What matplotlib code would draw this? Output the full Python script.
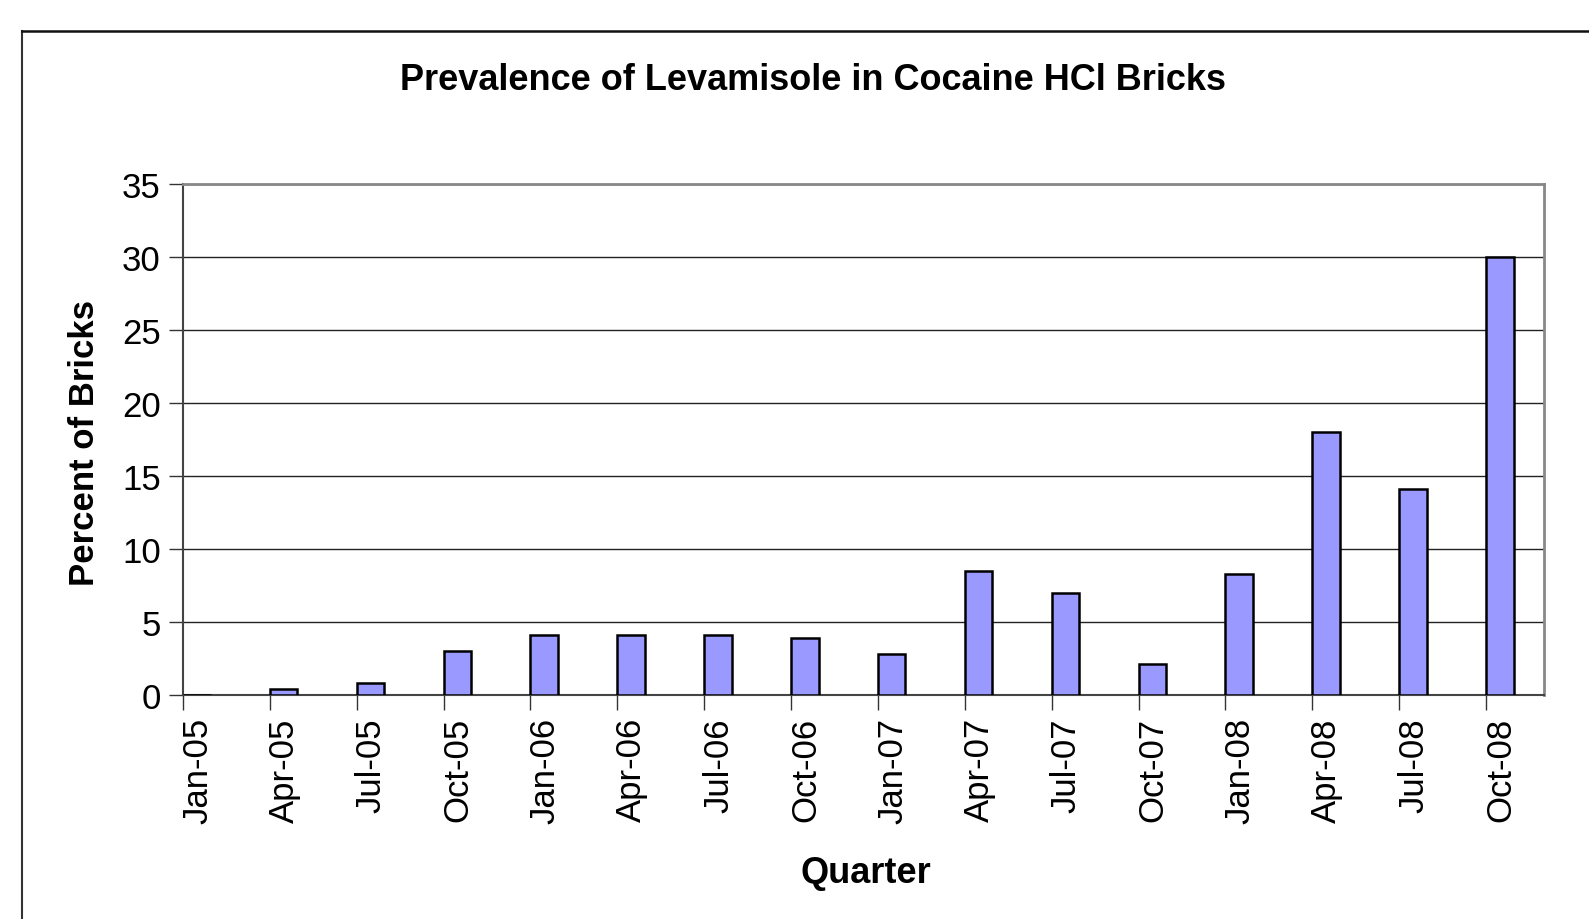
import matplotlib
matplotlib.use('Agg')
import matplotlib.pyplot as plt
from matplotlib.lines import Line2D

plt.rcParams['font.family'] = ['Liberation Sans', 'DejaVu Sans']

# quarters and the share of bricks with levamisole (%)
quarters = ['Jan-05', 'Apr-05', 'Jul-05', 'Oct-05', 'Jan-06', 'Apr-06', 'Jul-06', 'Oct-06',
            'Jan-07', 'Apr-07', 'Jul-07', 'Oct-07', 'Jan-08', 'Apr-08', 'Jul-08', 'Oct-08']
percent = [0, 0.4, 0.8, 3.0, 4.1, 4.1, 4.1, 3.9, 2.8, 8.5, 7.0, 2.1, 8.3, 18.0, 14.1, 30.0]
y_ticks = [0, 5, 10, 15, 20, 25, 30, 35]

# month offset of each quarter (date axis, one slot per month)
months = [3 * i for i in range(len(quarters))]

W, H = 1589, 920
fig = plt.figure(figsize=(W / 100, H / 100), dpi=100)

# outer chart frame (runs off the right and bottom edges)
fig.add_artist(Line2D([22 / W, 22 / W], [0, 1 - 32 / H], color='#333333', lw=1.5,
                      transform=fig.transFigure))
fig.add_artist(Line2D([22 / W, 1], [1 - 32 / H, 1 - 32 / H], color='#111111', lw=1.8,
                      transform=fig.transFigure))

ax = fig.add_axes([183 / W, 1 - 696 / H, (1544 - 183) / W, (696 - 185) / H])

ax.bar(months, percent, width=0.95, align='edge', color='#9999FF',
       edgecolor='black', linewidth=1.8, zorder=3)

ax.set_xlim(0, 47)
ax.set_ylim(0, 35)
ax.set_yticks(y_ticks)
ax.yaxis.grid(True, color='#222222', linewidth=1.0, zorder=0)

# ticks at quarter starts, labels centred in the month slot
ax.set_xticks(months)
ax.set_xticklabels([])
ax.set_xticks([m + 0.5 for m in months], minor=True)
ax.set_xticklabels(quarters, minor=True, rotation=90, fontsize=25)
ax.tick_params(axis='x', which='minor', length=0, pad=16)
ax.tick_params(axis='x', which='major', length=11, width=1, color='#333333')
ax.tick_params(axis='y', length=10, width=1, color='#333333', labelsize=25, pad=6)

for side in ['top', 'right']:
    ax.spines[side].set_color('#888888')
    ax.spines[side].set_linewidth(2)
for side in ['left', 'bottom']:
    ax.spines[side].set_color('#444444')
    ax.spines[side].set_linewidth(1.5)

fig.text(813 / W, 1 - 81 / H, 'Prevalence of Levamisole in Cocaine HCl Bricks',
         ha='center', va='center', fontsize=26, fontweight='bold')
fig.text(84 / W, 1 - 443 / H, 'Percent of Bricks', rotation=90,
         ha='center', va='center', fontsize=25, fontweight='bold')
fig.text(866 / W, 1 - 874 / H, 'Quarter', ha='center', va='center',
         fontsize=26, fontweight='bold')

fig.savefig('out.png', dpi=100)
